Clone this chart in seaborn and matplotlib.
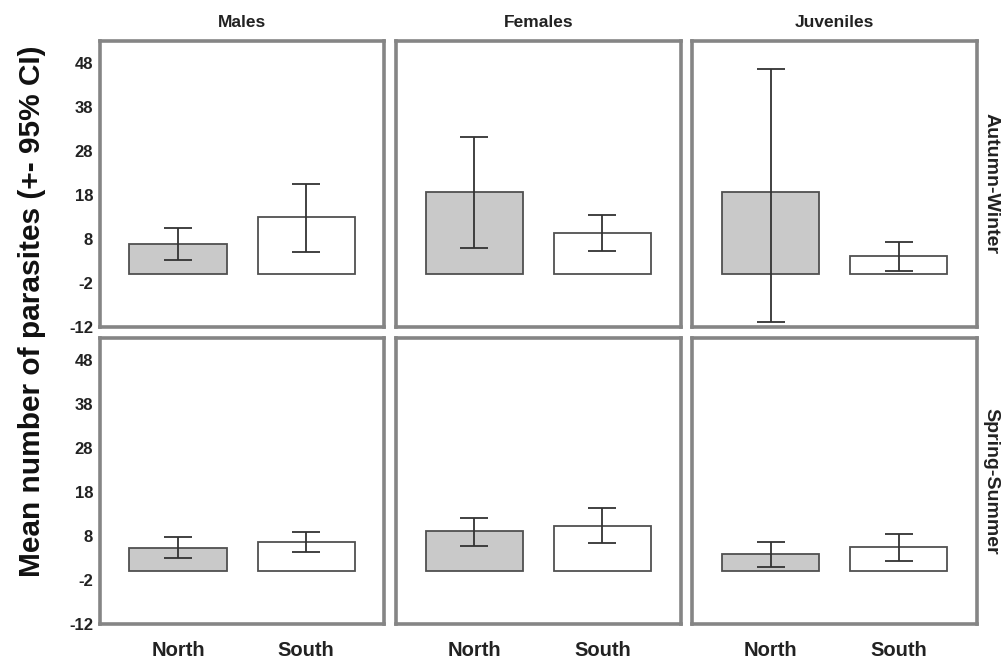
import numpy as np
import pandas as pd
import matplotlib
matplotlib.use("Agg")
import matplotlib.pyplot as plt
import seaborn as sns

# Categories
groups = ["Males", "Females", "Juveniles"]
seasons = ["Autumn-Winter", "Spring-Summer"]
regions = ["North", "South"]

# Mean number of parasites per group, [North, South]
aw_mean = [[6.9, 12.9], [18.7, 9.4], [18.7, 4.1]]
ss_mean = [[5.3, 6.6], [9.1, 10.3], [3.8, 5.4]]

# 95% confidence interval bounds, [North, South]
aw_lo = [[3.2, 5.1], [6.0, 5.2], [-10.8, 0.7]]
aw_hi = [[10.5, 20.5], [31.1, 13.5], [46.7, 7.3]]
ss_lo = [[3.1, 4.3], [5.8, 6.3], [0.9, 2.4]]
ss_hi = [[7.7, 8.8], [12.2, 14.4], [6.6, 8.5]]

y_ticks = [-12, -2, 8, 18, 28, 38, 48]

rows = []
for season, means, los, his in [("Autumn-Winter", aw_mean, aw_lo, aw_hi),
                                 ("Spring-Summer", ss_mean, ss_lo, ss_hi)]:
    for gi, grp in enumerate(groups):
        for ri, reg in enumerate(regions):
            rows.append(dict(season=season, group=grp, region=reg,
                             mean=means[gi][ri], lo=los[gi][ri], hi=his[gi][ri]))
df = pd.DataFrame(rows)

sns.set_theme(style="white")
plt.rcParams["font.family"] = ["Liberation Sans", "DejaVu Sans"]
plt.rcParams["font.weight"] = "bold"
plt.rcParams["axes.unicode_minus"] = False

fill = {"North": "#c9c9c9", "South": "#ffffff"}
edge = "#505050"
frame = "#858585"
text_col = "#222222"


def draw_panel(data, **kws):
    ax = plt.gca()
    sns.barplot(data=data, x="region", y="mean", hue="region", order=regions,
                hue_order=regions, palette=fill, width=0.76, edgecolor=edge,
                linewidth=1.3, errorbar=None, legend=False, ax=ax)
    d = data.set_index("region").loc[regions]
    xs = np.arange(len(regions))
    yerr = np.vstack([d["mean"] - d["lo"], d["hi"] - d["mean"]])
    ax.errorbar(xs, d["mean"].values, yerr=yerr, fmt="none", ecolor="#333333",
                elinewidth=1.3, capsize=10, capthick=1.3, zorder=5)


g = sns.FacetGrid(df, row="season", col="group", row_order=seasons,
                  col_order=groups, sharex=True, sharey=True, despine=False)
g.map_dataframe(draw_panel)
g.set_titles(template="")
g.set_axis_labels("", "")
g.figure.set_size_inches(10.08, 6.68)
g.figure.subplots_adjust(left=0.0992, right=0.969, top=0.9386, bottom=0.0659,
                         wspace=0.042, hspace=0.039)

for r, season in enumerate(seasons):
    for c, grp in enumerate(groups):
        ax = g.axes[r, c]
        ax.set_xlim(-0.61, 1.61)
        ax.set_ylim(-12, 53)
        ax.set_yticks(y_ticks)
        ax.set_facecolor("white")
        for sp in ax.spines.values():
            sp.set_color(frame)
            sp.set_linewidth(2.6)
        ax.tick_params(axis="both", direction="out", length=4, width=1,
                       color="#555555", colors=text_col)
        ax.tick_params(axis="y", labelsize=12, pad=1)
        ax.tick_params(axis="x", labelsize=14.5, pad=8)
        if c != 0:
            ax.tick_params(axis="y", left=False, labelleft=False)
        if r != len(seasons) - 1:
            ax.tick_params(axis="x", bottom=False, labelbottom=False)
        for lab in ax.get_yticklabels() + ax.get_xticklabels():
            lab.set_fontweight("bold")
        if r == 0:
            ax.set_title(grp, fontsize=12.5, fontweight="bold", color=text_col, pad=10)
        if c == len(groups) - 1:
            ax.text(1.02, 0.5, season, transform=ax.transAxes, rotation=270,
                    ha="left", va="center", fontsize=14, fontweight="bold",
                    color=text_col)

g.figure.text(0.032, 0.534, "Mean number of parasites (+- 95% CI)", rotation=90,
              ha="center", va="center", fontsize=21.5, fontweight="bold",
              color="#111111")

g.figure.savefig("out.png", dpi=100, facecolor="white")
